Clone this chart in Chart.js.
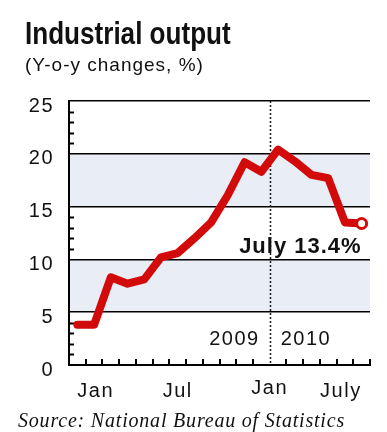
<!DOCTYPE html>
<html><head><meta charset="utf-8">
<script src="https://cdn.jsdelivr.net/npm/chart.js@4.4.1/dist/chart.umd.min.js"></script>
<style>
html,body{margin:0;padding:0;background:#fff;}
#wrap{position:relative;width:387px;height:432px;overflow:hidden;background:#fff;}
canvas{position:absolute;left:0;top:0;}
.t{position:absolute;white-space:nowrap;line-height:1;color:#111;}
#title{left:25px;top:15px;font:bold 32px "Liberation Sans",Arial,sans-serif;transform:scaleX(0.815);transform-origin:0 0;}
#sub{left:25px;top:54px;font:19px "Liberation Sans",Arial,sans-serif;letter-spacing:1px;}
#src{left:18px;top:409px;font:italic 20px "Liberation Serif","Times New Roman",serif;letter-spacing:0.8px;}
</style></head><body>
<div id="wrap">
<canvas id="c" width="387" height="432"></canvas>
<div class="t" id="title">Industrial output</div>
<div class="t" id="sub">(Y-o-y changes, %)</div>
<div class="t" id="src">Source: National Bureau of Statistics</div>
</div>
<script>
// ---- data ----
const categories = ['Jan 2009','Feb 2009','Mar 2009','Apr 2009','May 2009','Jun 2009','Jul 2009','Aug 2009','Sep 2009','Oct 2009','Nov 2009','Dec 2009','Jan-Feb 2010','Mar 2010','Apr 2010','May 2010','Jun 2010','Jul 2010'];
const output = [3.8, 3.8, 8.3, 7.7, 8.1, 10.2, 10.6, 12.0, 13.5, 16.1, 19.2, 18.3, 20.4, 19.3, 18.0, 17.7, 13.5, 13.4];
const xTickLabels = ['Jan','','','','','','Jul','','','','','','','','','','','July'];
const yearLabels = ['2009','2010'];
const dividerLabel = 'Jan';
const yTicks = [0, 5, 10, 15, 20, 25];
const shadedBands = [[5, 10], [15, 20]];
const latestLabel = 'July 13.4%';

const RED = '#d20a0a';
const BAND = '#e8edf6';
const TXT = '#111';
const FONT = '"Liberation Sans", Arial, sans-serif';

const decor = {
  id: 'decor',
  beforeDraw(chart) {
    const {ctx, chartArea: a, scales: {y}} = chart;
    ctx.letterSpacing = '1.5px';
    ctx.save();
    ctx.fillStyle = BAND;
    shadedBands.forEach(([lo, hi]) => {
      const t = y.getPixelForValue(hi), b = y.getPixelForValue(lo);
      ctx.fillRect(a.left, t, a.right - a.left, b - t);
    });
    ctx.restore();
  },
  beforeDatasetsDraw(chart) {
    const {ctx, chartArea: a, scales: {x, y}} = chart;
    ctx.save();
    ctx.strokeStyle = '#000';
    ctx.lineWidth = 2;
    // minor y ticks in white bands
    const yMax = yTicks[yTicks.length - 1];
    for (let v = 1; v < yMax; v++) {
      if (v % 5 === 0) continue;
      if (shadedBands.some(([lo, hi]) => v > lo && v < hi)) continue;
      const py = Math.round(y.getPixelForValue(v)) + 0.5;
      ctx.beginPath(); ctx.moveTo(a.left, py); ctx.lineTo(a.left + 5, py); ctx.stroke();
    }
    // x ticks at month boundaries
    const half = (x.getPixelForValue(1) - x.getPixelForValue(0)) / 2;
    const divIdx = 11;
    for (let i = 0; i < categories.length; i++) {
      if (i === divIdx) continue;
      const px = Math.round(x.getPixelForValue(i) + half);
      ctx.beginPath(); ctx.moveTo(px, a.bottom); ctx.lineTo(px, a.bottom - 6); ctx.stroke();
    }
    // year divider
    const xd = Math.round(x.getPixelForValue(divIdx) + half) + 0.5;
    ctx.strokeStyle = '#1a1a1a';
    ctx.lineWidth = 1.5;
    ctx.setLineDash([2, 2]);
    ctx.beginPath(); ctx.moveTo(xd, a.top); ctx.lineTo(xd, a.bottom); ctx.stroke();
    ctx.setLineDash([]);
    ctx.restore();
  },
  afterDatasetsDraw(chart) {
    const {ctx, chartArea: a, scales: {x, y}} = chart;
    const half = (x.getPixelForValue(1) - x.getPixelForValue(0)) / 2;
    const xd = x.getPixelForValue(11) + half;
    ctx.save();
    ctx.fillStyle = TXT;
    ctx.textBaseline = 'middle';
    ctx.font = '20px ' + FONT;
    ctx.letterSpacing = '1.5px';
    ctx.textAlign = 'right';
    ctx.fillText(yearLabels[0], xd - 10, a.bottom - 26);
    ctx.textAlign = 'left';
    ctx.fillText(yearLabels[1], xd + 11, a.bottom - 26);
    ctx.textAlign = 'center';
    ctx.fillText(dividerLabel, xd, a.bottom + 23);
    // latest value label
    const last = output.length - 1;
    const lx = x.getPixelForValue(last), ly = y.getPixelForValue(output[last]);
    ctx.font = 'bold 22px ' + FONT;
    ctx.letterSpacing = '1px';
    ctx.textAlign = 'right';
    ctx.fillText(latestLabel, lx, ly + 23);
    ctx.restore();
  }
};

new Chart(document.getElementById('c'), {
  type: 'line',
  data: {
    labels: categories,
    datasets: [{
      data: output,
      borderColor: RED,
      borderWidth: 8,
      borderCapStyle: 'round',
      borderJoinStyle: 'round',
      tension: 0,
      pointRadius: ctx => ctx.dataIndex === output.length - 1 ? 5 : 0,
      pointHoverRadius: 0,
      pointBackgroundColor: '#fff',
      pointBorderColor: RED,
      pointBorderWidth: 3,
      clip: false
    }]
  },
  options: {
    responsive: false,
    animation: false,
    events: [],
    layout: {padding: {left: 0, top: 101, right: 17, bottom: 0}},
    plugins: {legend: {display: false}, tooltip: {enabled: false}, title: {display: false}},
    scales: {
      x: {
        type: 'category',
        offset: true,
        grid: {display: false, offset: true},
        border: {display: true, color: '#000', width: 2},
        ticks: {
          autoSkip: false, maxRotation: 0, align: 'inner', padding: 6,
          color: TXT, font: {family: FONT, size: 20},
          callback: (v, i) => xTickLabels[i]
        },
        afterFit: s => { s.height = 67; }
      },
      y: {
        min: yTicks[0], max: yTicks[yTicks.length - 1],
        afterBuildTicks: s => { s.ticks = yTicks.map(v => ({value: v})); },
        grid: {color: '#000', lineWidth: 1.6, drawTicks: false},
        border: {display: true, color: '#000', width: 2},
        ticks: {padding: 15, labelOffset: 5, color: TXT, font: {family: FONT, size: 20}},
        afterFit: s => { s.width = 69; }
      }
    }
  },
  plugins: [decor]
});
</script>
</body></html>
